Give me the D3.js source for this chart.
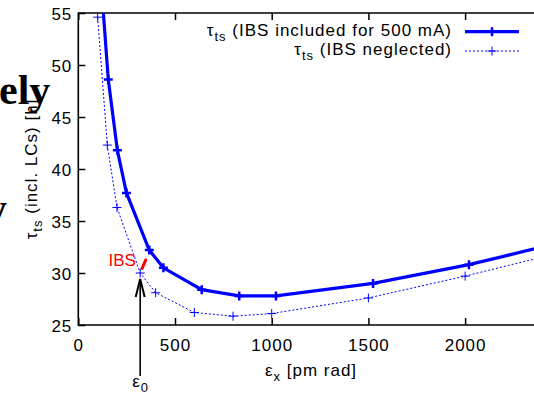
<!DOCTYPE html>
<html>
<head>
<meta charset="utf-8">
<script src="https://cdn.jsdelivr.net/npm/d3@7"></script>
<style>
  body { margin: 0; background: #fff; }
  svg { display: block; overflow: hidden; }
  text { font-family: "Liberation Sans", Arial, sans-serif; letter-spacing: 1px; }
</style>
</head>
<body>
<div class="visHolder"></div>
<script>
"use strict"

// emittance [pm rad] and touschek lifetime [h]
var epsIncl = [110, 155, 202, 249, 367, 440, 638, 832, 1022, 1524, 2020, 2520];
var tauIncl = [60, 48.6, 41.8, 37.7, 32.2, 30.5, 28.4, 27.8, 27.8, 29.0, 30.8, 33.05];
var epsNegl = [100, 150, 200, 320, 400, 600, 800, 1000, 1500, 2000, 2500];
var tauNegl = [54.6, 42.3, 36.3, 30.0, 28.1, 26.2, 25.85, 26.1, 27.6, 29.7, 32.0];
var xTicks = [0, 500, 1000, 1500, 2000];
var yTicks = [25, 30, 35, 40, 45, 50, 55];

// annotations (data coords)
var eps0 = 320;
var ibsLabel = [298, 30.67];
var ibsArrow = [[330, 30.45], [348.5, 31.25]];

var W = 534, H = 396,
  mLeft = 78.3, mTop = 13,
  plotW = 2500 * 0.1934, // right border sits outside the window
  plotH = 312;

var blue = '#0000ff';

var svg = d3.select('.visHolder')
  .append('svg')
  .attr('width', W)
  .attr('height', H);

var xScale = d3.scaleLinear().domain([0, 2500]).range([mLeft, mLeft + plotW]);
var yScale = d3.scaleLinear().domain([25, 55]).range([mTop + plotH, mTop]);

svg.append('clipPath').attr('id', 'plotClip')
  .append('rect')
  .attr('x', mLeft).attr('y', mTop)
  .attr('width', plotW).attr('height', plotH);

// axes, ticks pointing inwards
var xAxis = d3.axisBottom(xScale).tickValues(xTicks).tickFormat(d3.format('d'))
  .tickSizeInner(-7).tickSizeOuter(0).tickPadding(14);
var xTop = d3.axisTop(xScale).tickValues(xTicks).tickSizeInner(-7).tickSizeOuter(0).tickFormat('');
var yAxis = d3.axisLeft(yScale).tickValues(yTicks).tickSizeInner(-7).tickSizeOuter(0).tickPadding(6);

function styleAxis(g) {
  g.select('.domain').remove();
  g.selectAll('line').attr('stroke', '#000').attr('stroke-width', 1.5);
  g.selectAll('text').attr('fill', '#000').style('font-size', '17px')
    .style('font-family', '"Liberation Sans", Arial, sans-serif');
}

svg.append('g').attr('transform', 'translate(0,' + (mTop + plotH) + ')').call(xAxis).call(styleAxis);
svg.append('g').attr('transform', 'translate(0,' + mTop + ')').call(xTop).call(styleAxis);
svg.append('g').attr('transform', 'translate(' + mLeft + ',0)').call(yAxis).call(styleAxis)
  .selectAll('text').attr('dy', '0.38em');

// box (left, bottom, top)
svg.append('path')
  .attr('d', 'M' + (mLeft + plotW) + ',' + mTop + 'H' + mLeft + 'V' + (mTop + plotH) + 'H' + (mLeft + plotW))
  .attr('fill', 'none')
  .attr('stroke', '#000')
  .attr('stroke-width', 1.6);

var line = d3.line()
  .x(d => xScale(d[0]))
  .y(d => yScale(d[1]));

var incl = epsIncl.map((e, i) => [e, tauIncl[i]]);
var negl = epsNegl.map((e, i) => [e, tauNegl[i]]);

function plus(g, pts, size, sw) {
  pts.filter(d => d[1] >= 25 && d[1] <= 55 && d[0] <= 2500).forEach(d => {
    var x = xScale(d[0]), y = yScale(d[1]);
    g.append('path')
      .attr('d', 'M' + (x - size) + ',' + y + 'H' + (x + size) + 'M' + x + ',' + (y - size) + 'V' + (y + size))
      .attr('stroke', blue)
      .attr('stroke-width', sw);
  });
}

var plot = svg.append('g');

plot.append('path')
  .datum(negl)
  .attr('clip-path', 'url(#plotClip)')
  .attr('d', line)
  .attr('fill', 'none')
  .attr('stroke', blue)
  .attr('stroke-width', 1)
  .attr('stroke-dasharray', '2,2');
plus(plot, negl, 4.5, 1);

plot.append('path')
  .datum(incl)
  .attr('clip-path', 'url(#plotClip)')
  .attr('d', line)
  .attr('fill', 'none')
  .attr('stroke', blue)
  .attr('stroke-width', 3.2);
plus(plot, incl, 4.5, 2.5);

// IBS annotation
svg.append('text')
  .attr('x', xScale(ibsLabel[0]))
  .attr('y', yScale(ibsLabel[1]))
  .attr('text-anchor', 'end')
  .attr('fill', '#ff0000')
  .style('font-size', '17px')
  .style('letter-spacing', '0px')
  .text('IBS');

svg.append('path')
  .datum(ibsArrow)
  .attr('d', line)
  .attr('stroke', '#ff0000')
  .attr('stroke-width', 3)
  .attr('stroke-linecap', 'round');

// eps0 arrow
var ax = xScale(eps0), tipY = yScale(tauNegl[3]) + 6;
svg.append('line')
  .attr('x1', ax).attr('x2', ax)
  .attr('y1', 376).attr('y2', tipY + 2)
  .attr('stroke', '#000')
  .attr('stroke-width', 1.6);
svg.append('path')
  .attr('d', 'M' + (ax - 4.5) + ',' + (tipY + 18) + 'L' + ax + ',' + tipY + 'L' + (ax + 4.5) + ',' + (tipY + 18))
  .attr('fill', 'none')
  .attr('stroke', '#000')
  .attr('stroke-width', 2);

var e0 = svg.append('text')
  .attr('x', ax - 8)
  .attr('y', 387)
  .style('font-size', '17px');
e0.append('tspan').text('ε');
e0.append('tspan').attr('dy', 5).style('font-size', '13px').text('0');

// axis labels
var xl = svg.append('text')
  .attr('x', 311)
  .attr('y', 376)
  .attr('text-anchor', 'middle')
  .style('font-size', '17px');
xl.append('tspan').text('ε');
xl.append('tspan').attr('dy', 5).style('font-size', '13px').text('x');
xl.append('tspan').attr('dy', -5).text(' [pm rad]');

var yl = svg.append('text')
  .attr('transform', 'rotate(-90)')
  .attr('x', -169)
  .attr('y', 37)
  .attr('text-anchor', 'middle')
  .style('font-size', '17px');
yl.append('tspan').text('τ');
yl.append('tspan').attr('dy', 5).style('font-size', '13px').text('ts');
yl.append('tspan').attr('dy', -5).text(' (incl. LCs) [h]');

// legend
var legend = [
  { label: ' (IBS included for 500 mA)', y: 36, ly: 31.7, w: 3.2, dash: null, msw: 2.5 },
  { label: ' (IBS neglected)', y: 55, ly: 51, w: 1, dash: '2,2', msw: 1 }
];
legend.forEach(d => {
  var t = svg.append('text')
    .attr('x', 452)
    .attr('y', d.y)
    .attr('text-anchor', 'end')
    .style('font-size', '17px');
  t.append('tspan').text('τ');
  t.append('tspan').attr('dy', 5).style('font-size', '13px').text('ts');
  t.append('tspan').attr('dy', -5).text(d.label);

  svg.append('line')
    .attr('x1', 465).attr('x2', 519)
    .attr('y1', d.ly).attr('y2', d.ly)
    .attr('stroke', blue)
    .attr('stroke-width', d.w)
    .attr('stroke-dasharray', d.dash);
  svg.append('path')
    .attr('d', 'M487.5,' + d.ly + 'H496.5M492,' + (d.ly - 4.5) + 'V' + (d.ly + 4.5))
    .attr('stroke', blue)
    .attr('stroke-width', d.msw);
});

// cut-off text from the surrounding page
svg.append('text')
  .attr('x', -1)
  .attr('y', 104)
  .style('font-family', '"Liberation Serif", "Times New Roman", serif')
  .style('font-weight', 'bold')
  .style('font-size', '42px')
  .style('letter-spacing', '0px')
  .text('ely');
svg.append('text')
  .attr('x', -14)
  .attr('y', 222)
  .style('font-family', '"Liberation Serif", "Times New Roman", serif')
  .style('font-weight', 'bold')
  .style('font-size', '42px')
  .style('letter-spacing', '0px')
  .text('y');
</script>
</body>
</html>
